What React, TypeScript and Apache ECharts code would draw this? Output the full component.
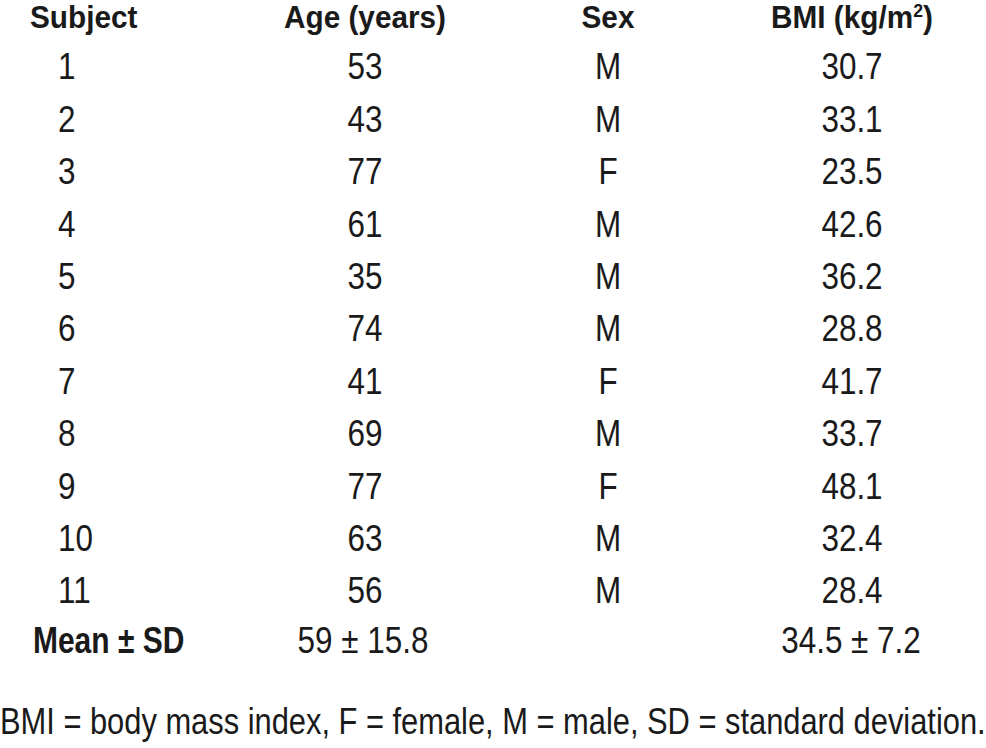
import React, { useEffect, useRef } from "react";
import * as echarts from "echarts";

const headers = ["Subject", "Age (years)", "Sex", "BMI (kg/m{sup|2})"];
const subjects = ["1", "2", "3", "4", "5", "6", "7", "8", "9", "10", "11"];
const ages = ["53", "43", "77", "61", "35", "74", "41", "69", "77", "63", "56"];
const sexes = ["M", "M", "F", "M", "M", "M", "F", "M", "F", "M", "M"];
const bmis = ["30.7", "33.1", "23.5", "42.6", "36.2", "28.8", "41.7", "33.7", "48.1", "32.4", "28.4"];
const meanLabel = "Mean ± SD";
const ageMean = "59 ± 15.8";
const bmiMean = "34.5 ± 7.2";
const footnote = "BMI = body mass index, F = female, M = male, SD = standard deviation.";

const FONT_FAMILY = "'Liberation Sans', Arial, Helvetica, sans-serif";
const INK = "#1a1a1a";

export default function App() {
  const ref = useRef<HTMLDivElement>(null);
  useEffect(() => {
    document.body.style.margin = "0";
    if (!ref.current) return;
    const chart = echarts.init(ref.current, undefined, { renderer: "svg" });

    const colX = [30, 365, 608, 852];
    const headerY = 17;
    const row0Y = 66.5;
    const rowStep = 52.4;
    const meanY = 640;
    const footY = 721;

    const txt = (
      text: string,
      x: number,
      y: number,
      align: string,
      size: number,
      bold: boolean,
      sx: number
    ) => ({
      type: "text",
      x,
      y,
      scaleX: sx,
      silent: true,
      style: {
        text,
        fill: INK,
        font: `${bold ? "bold " : ""}${size}px ${FONT_FAMILY}`,
        textAlign: align,
        textVerticalAlign: "middle",
        rich: {
          sup: {
            font: `bold 19px ${FONT_FAMILY}`,
            fill: INK,
            verticalAlign: "top",
            lineHeight: 20,
          },
        },
      },
    });

    const elements: any[] = [];
    // headers
    elements.push(txt(headers[0], colX[0], headerY, "left", 32, true, 0.93));
    for (let i = 1; i < headers.length; i++) {
      elements.push(txt(headers[i], colX[i], headerY, "center", 32, true, 0.93));
    }
    // rows
    subjects.forEach((s, i) => {
      const y = row0Y + i * rowStep;
      elements.push(txt(s, 58, y, "left", 37, false, 0.85));
      elements.push(txt(ages[i], colX[1], y, "center", 37, false, 0.85));
      elements.push(txt(sexes[i], colX[2], y, "center", 37, false, 0.85));
      elements.push(txt(bmis[i], colX[3], y, "center", 37, false, 0.85));
    });
    // mean row
    elements.push(txt(meanLabel, 33, meanY, "left", 37, true, 0.81));
    elements.push(txt(ageMean, 363, meanY, "center", 37, false, 0.85));
    elements.push(txt(bmiMean, 851, meanY, "center", 37, false, 0.85));
    // footnote
    elements.push(txt(footnote, 0, footY, "left", 37, false, 0.834));

    chart.setOption({
      animation: false,
      backgroundColor: "#ffffff",
      graphic: { elements },
    });
    return () => chart.dispose();
  }, []);
  return <div ref={ref} style={{ width: 986, height: 748 }} />;
}
